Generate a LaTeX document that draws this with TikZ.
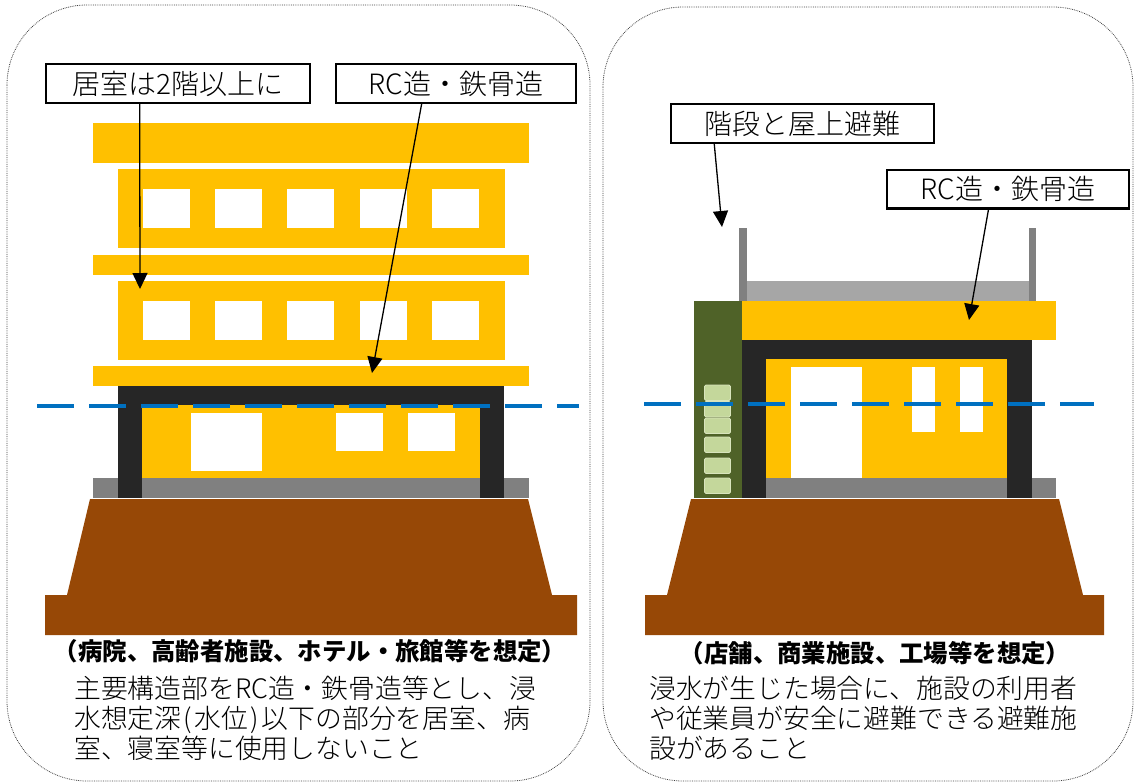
\documentclass[tikz,border=0pt]{standalone}
\usepackage{fontspec}
\setmainfont{Noto Sans CJK JP Light}
\newfontfamily\gothic{Noto Sans CJK JP}
\usetikzlibrary{arrows.meta,calc}

\definecolor{bldyellow}{HTML}{FFC000}
\definecolor{frame}{HTML}{262626}
\definecolor{basegray}{HTML}{808080}
\definecolor{roofgray}{HTML}{A6A6A6}
\definecolor{soil}{HTML}{974806}
\definecolor{stairgreen}{HTML}{4F6228}
\definecolor{stepgreen}{HTML}{C4D79B}
\definecolor{steprim}{HTML}{D8E4BC}
\definecolor{water}{HTML}{0070C0}

% half-width bracket
\newcommand{\hw}[1]{\makebox[0.5em]{#1}}

\tikzset{
  panel/.style={draw=black!75, line width=0.8pt, densely dotted, rounded corners=80pt},
  tagbox/.style={draw=black, line width=2.4pt, fill=white, inner sep=0pt,
    minimum height=38.6pt, font=\fontsize{28}{30}\selectfont},
  pointer/.style={line width=1.3pt, -{Triangle[width=15pt,length=16pt]}},
  waterline/.style={draw=water, line width=4pt, dash pattern=on 37pt off 15pt},
  caption/.style={inner sep=0pt, font=\gothic\bfseries\fontsize{24.4}{26}\selectfont},
  bodytext/.style={inner sep=0pt, anchor=north west, align=left,
    font=\fontsize{26.8}{30}\selectfont},
  step box/.style={fill=stepgreen, draw=steprim, line width=0.8pt, rounded corners=1.5pt}
}

\begin{document}
\begin{tikzpicture}[x=1pt,y=-1pt]
\useasboundingbox (0,0) rectangle (1135,782);

% ---------- panel outlines ----------
\draw[panel] (7,5) rectangle (590,781);
\draw[panel] (603,7) rectangle (1133,781);

% ---------- left: multi-storey building ----------
% ground
\fill[soil] (90,499) -- (528,499) -- (552,595) -- (577,595) -- (577,635)
  -- (45,635) -- (45,595) -- (67,595) -- cycle;
% slabs
\fill[bldyellow] (93,123) rectangle (529,163);
\fill[bldyellow] (93,255) rectangle (529,275);
\fill[bldyellow] (93,366) rectangle (529,386);
% upper floors with windows
\foreach \top/\bot in {169/248, 281/360} {
  \fill[bldyellow] (118,\top) rectangle (505,\bot);
  \foreach \wx in {143,215,287,360,432}
    \fill[white] (\wx,\top+20) rectangle (\wx+47,\top+59);
}
% ground floor
\fill[basegray] (93,478) rectangle (529,498);
\fill[bldyellow] (142,405) rectangle (480,478);
\fill[frame] (118,386) rectangle (504,405);
\fill[frame] (118,386) rectangle (142,498);
\fill[frame] (480,386) rectangle (504,498);
\fill[white] (191,413) rectangle (262,471);
\fill[white] (336,413) rectangle (383,451);
\fill[white] (408,413) rectangle (455,451);
% flood level
\draw[waterline] (37,406) -- (579,406);

% callouts
\node[tagbox, minimum width=263.6pt] (room) at (178,83.5) {居室は2階以上に};
\node[tagbox, minimum width=239.6pt] (rcl) at (456,83.5) {RC造・鉄骨造};
\coordinate (roomtip) at (140,289);
\coordinate (rcltip) at (372,373);
\draw[pointer] ($(room.south west)!0.356!(room.south east)$) -- (roomtip);
\draw[pointer] ($(rcl.south west)!0.358!(rcl.south east)$) -- (rcltip);

% texts
\node[caption] (capl) at (310,651) {（病院、高齢者施設、ホテル・旅館等を想定）};
\node[bodytext] (bodyl) at (74,676) {主要構造部をRC造・鉄骨造等とし、浸\\水想定深\hw{(}水位\hw{)}以下の部分を居室、病\\室、寝室等に使用しないこと};

% ---------- right: low building with stair ----------
\fill[soil] (691,499) -- (1059,499) -- (1083,595) -- (1104,595) -- (1104,635)
  -- (645,635) -- (645,595) -- (667,595) -- cycle;
% rooftop rails and deck
\fill[basegray] (739,228) rectangle (747,301);
\fill[basegray] (1029,228) rectangle (1036,301);
\fill[roofgray] (747,281) rectangle (1029,301);
% roof slab
\fill[bldyellow] (742,301) rectangle (1056,340);
% stair tower
\fill[stairgreen] (694,301) rectangle (742,498);
\foreach \sy in {385,401.5,418,437,458,478}
  \draw[step box] (704.5,\sy) rectangle (730.5,\sy+15.5);
% ground floor
\fill[basegray] (742,478) rectangle (1056,498);
\fill[bldyellow] (766,359) rectangle (1007,478);
\fill[frame] (742,340) rectangle (1032,359);
\fill[frame] (742,340) rectangle (766,498);
\fill[frame] (1007,340) rectangle (1032,498);
\fill[white] (791,367) rectangle (862,478);
\fill[white] (912,367) rectangle (935,432);
\fill[white] (960,367) rectangle (983,432);
% flood level
\draw[waterline] (644,404) -- (1094,404);

% callouts
\node[tagbox, minimum width=262.6pt] (stair) at (802.5,123.5) {階段と屋上避難};
\node[tagbox, minimum width=241.6pt] (rcr) at (1008,189) {RC造・鉄骨造};
\coordinate (stairtip) at (722,227);
\coordinate (rcrtip) at (969,320);
\draw[pointer] ($(stair.south west)!0.167!(stair.south east)$) -- (stairtip);
\draw[pointer] ($(rcr.south west)!0.42!(rcr.south east)$) -- (rcrtip);

% texts
\node[caption] (capr) at (875,653) {（店舗、商業施設、工場等を想定）};
\node[bodytext] (bodyr) at (649,676) {浸水が生じた場合に、施設の利用者\\や従業員が安全に避難できる避難施\\設があること};
\end{tikzpicture}
\end{document}
